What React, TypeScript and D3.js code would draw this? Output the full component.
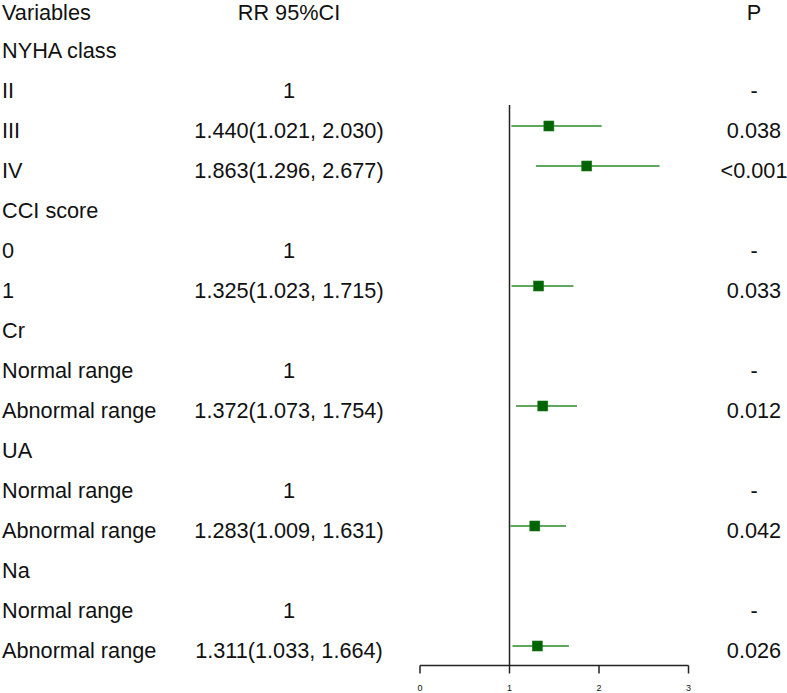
import React, { useEffect, useRef } from 'react';
import * as d3 from 'd3';

const labels = [
  'NYHA class', 'II', 'III', 'IV',
  'CCI score', '0', '1',
  'Cr', 'Normal range', 'Abnormal range',
  'UA', 'Normal range', 'Abnormal range',
  'Na', 'Normal range', 'Abnormal range',
];
const rrText = [
  '', '1', '1.440(1.021, 2.030)', '1.863(1.296, 2.677)',
  '', '1', '1.325(1.023, 1.715)',
  '', '1', '1.372(1.073, 1.754)',
  '', '1', '1.283(1.009, 1.631)',
  '', '1', '1.311(1.033, 1.664)',
];
const pText = [
  '', '-', '0.038', '<0.001',
  '', '-', '0.033',
  '', '-', '0.012',
  '', '-', '0.042',
  '', '-', '0.026',
];
const est = [null, null, 1.440, 1.863, null, null, 1.325, null, null, 1.372, null, null, 1.283, null, null, 1.311];
const lower = [null, null, 1.021, 1.296, null, null, 1.023, null, null, 1.073, null, null, 1.009, null, null, 1.033];
const upper = [null, null, 2.030, 2.677, null, null, 1.715, null, null, 1.754, null, null, 1.631, null, null, 1.664];
const ticks = [0, 1, 2, 3];

const App: React.FC = () => {
  const ref = useRef<SVGSVGElement>(null);

  useEffect(() => {
    const width = 787, height = 693;
    const svg = d3.select(ref.current)
      .attr('width', width)
      .attr('height', height);
    svg.selectAll('*').remove();

    const font = "'Liberation Sans', Arial, sans-serif";
    const x = d3.scaleLinear().domain([0, 3]).range([420, 688.5]);
    // row 0 is the header, data rows start at 1
    const y = d3.scaleLinear().domain([0, 16]).range([6, 646]);
    const axisY = 665.5;

    const txt = (tx: number, ty: number, s: string, anchor = 'start') =>
      svg.append('text')
        .attr('x', tx)
        .attr('y', ty)
        .attr('text-anchor', anchor)
        .style('font-family', font)
        .style('font-size', '21.7px')
        .attr('fill', '#111')
        .text(s);

    // header (nudged down a little so it is not clipped at the top)
    txt(2, y(0) + 14, 'Variables');
    txt(289, y(0) + 14, 'RR 95%CI', 'middle');
    txt(754, y(0) + 14, 'P', 'middle');

    labels.forEach((l, i) => {
      const ry = y(i + 1);
      txt(2, ry + 12, l);
      if (rrText[i]) txt(289, ry + 12, rrText[i], 'middle');
      if (pText[i]) txt(754, ry + 12, pText[i], 'middle');
    });

    // reference line at RR = 1
    svg.append('line')
      .attr('x1', x(1)).attr('x2', x(1))
      .attr('y1', 105).attr('y2', axisY)
      .attr('stroke', '#222')
      .attr('stroke-width', 1.5);

    // CI lines and points
    labels.forEach((_, i) => {
      const e = est[i], lo = lower[i], hi = upper[i];
      if (e == null || lo == null || hi == null) return;
      const ry = y(i + 1);
      svg.append('line')
        .attr('x1', x(lo)).attr('x2', x(hi))
        .attr('y1', ry).attr('y2', ry)
        .attr('stroke', '#2b8a2b')
        .attr('stroke-width', 1.5);
      svg.append('rect')
        .attr('x', x(e) - 5).attr('y', ry - 5)
        .attr('width', 10).attr('height', 10)
        .attr('fill', '#006400')
        .attr('stroke', '#1f7a1f')
        .attr('stroke-width', 0.6);
    });

    // x axis
    const axis = svg.append('g');
    axis.append('line')
      .attr('x1', x(0)).attr('x2', x(3))
      .attr('y1', axisY).attr('y2', axisY)
      .attr('stroke', '#222')
      .attr('stroke-width', 1.5);
    ticks.forEach(t => {
      axis.append('line')
        .attr('x1', x(t)).attr('x2', x(t))
        .attr('y1', axisY).attr('y2', axisY + 8)
        .attr('stroke', '#222')
        .attr('stroke-width', 1.5);
      axis.append('text')
        .attr('x', x(t))
        .attr('y', axisY + 25)
        .attr('text-anchor', 'middle')
        .style('font-family', font)
        .style('font-size', '9px')
        .attr('fill', '#111')
        .text(t);
    });
  }, []);

  return (
    <svg ref={ref} style={{ position: 'absolute', left: 0, top: 0, background: '#fff' }}></svg>
  );
};

export default App;
